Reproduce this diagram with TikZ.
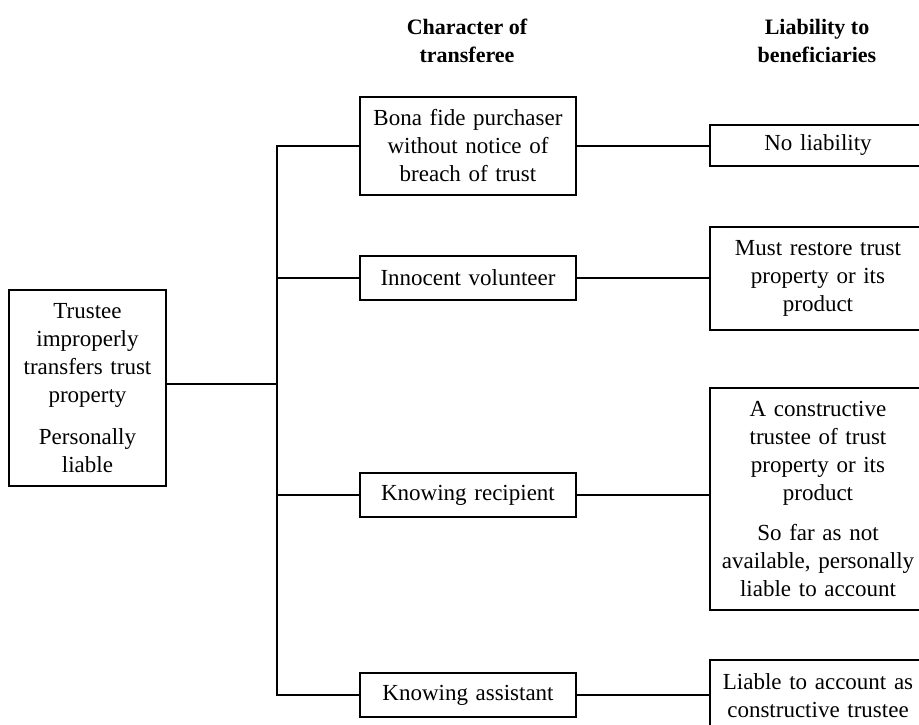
\documentclass[tikz,border=0pt]{standalone}
\usepackage{fontspec}
\setmainfont{Liberation Serif}
\begin{document}
\begin{tikzpicture}[x=1pt, y=-1pt,
  every node/.style={inner sep=0pt, align=center},
  txt/.style={font=\fontsize{23}{28}\selectfont},
  head/.style={font=\fontsize{22}{28}\selectfont\bfseries},
  box/.style={txt, draw, line width=1.3pt, text width=#1, minimum width=#1},
  box/.default=216pt,
  link/.style={line width=1.3pt}]
\useasboundingbox (0,0) rectangle (919,725);

% column headings
\node[head] (h1) at (467,41) {Character of\\transferee};
\node[head] (h2) at (817,41) {Liability to\\beneficiaries};

% source
\node[box=157pt, minimum height=196pt] (tt) at (87.5,388)
  {Trustee\\improperly\\transfers trust\\property\\[14pt]Personally\\liable};

% character of transferee
\node[box, minimum height=98pt] (bona) at (468,146)
  {Bona fide purchaser\\without notice of\\breach of trust};
\node[box, minimum height=44pt] (innoc) at (468,278) {Innocent volunteer};
\node[box, minimum height=44pt] (recip) at (468,495) {Knowing recipient};
\node[box, minimum height=44pt] (assist) at (468,695) {Knowing assistant};

% liability to beneficiaries
\node[box, minimum height=41pt] (noliab) at (818,145.5) {No liability};
\node[box, minimum height=103pt] (restore) at (818,278.5)
  {Must restore trust\\property or its\\product};
\node[box, minimum height=222pt] (constr) at (818,499)
  {A constructive\\trustee of trust\\property or its\\product\\[12pt]So far as not\\available, personally\\liable to account};
\node[box, minimum height=71pt] (liable) at (818,695.5)
  {Liable to account as\\constructive trustee};

% branching connectors
\coordinate (jn) at (277,384);
\draw[link] (tt.east |- jn) -- (jn);
\draw[link] (bona.west) -| (jn) |- (assist.west);
\draw[link] (innoc.west) -- (innoc.west -| jn);
\draw[link] (recip.west) -- (recip.west -| jn);

\draw[link] (bona.east) -- (bona.east -| noliab.west);
\draw[link] (innoc.east) -- (innoc.east -| restore.west);
\draw[link] (recip.east) -- (recip.east -| constr.west);
\draw[link] (assist.east) -- (assist.east -| liable.west);
\end{tikzpicture}
\end{document}
